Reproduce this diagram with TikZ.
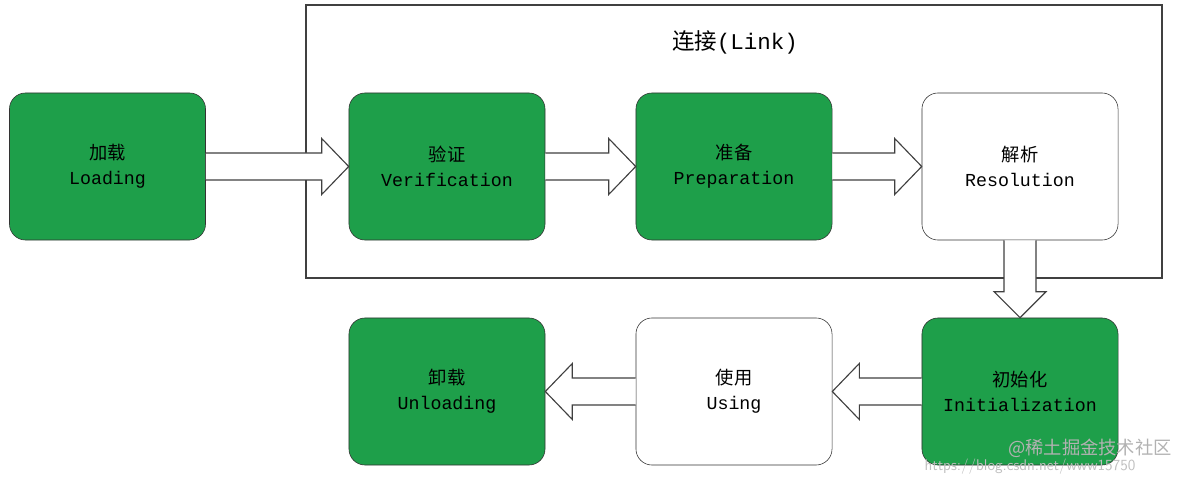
\documentclass[tikz,border=0pt]{standalone}
\usepackage{fontspec}
\setmonofont{Liberation Mono}
\newfontfamily\cjk{Noto Sans CJK SC}
\usetikzlibrary{calc}
\definecolor{stepgreen}{HTML}{1E9F4A}

% hollow block arrow between two anchors, #3 = +1 (rightwards) or -1 (leftwards)
\newcommand\flatarrow[3]{%
  \draw[hollow] ($(#1)+(0,13.5)$) -- ($(#2)+(-27*#3,13.5)$) -- ($(#2)+(-27*#3,28)$)
    -- (#2) -- ($(#2)+(-27*#3,-28)$) -- ($(#2)+(-27*#3,-13.5)$) -- ($(#1)+(0,-13.5)$);}

\begin{document}
\begin{tikzpicture}[x=0.025cm, y=-0.025cm,
    phase/.style={rectangle, draw=black!80, fill=stepgreen, rounded corners=0.4cm,
      minimum width=4.9cm, minimum height=3.675cm, align=center,
      font=\fontsize{13}{18}\selectfont\ttfamily, inner sep=0pt},
    plain/.style={phase, fill=white},
    hollow/.style={draw=black!75, fill=white, line width=0.8pt},
    frame/.style={draw=black!75, line width=0.8pt}]
    \useasboundingbox (0,0) rectangle (1186,478);

    \draw[frame] (306,5) rectangle (1162,278);
    \node[font=\fontsize{16}{18}\selectfont] (link) at (735,42) {{\cjk 连接}\ttfamily(Link)};

    \node[phase] (load) at (107.5,166.5) {{\cjk 加载}\\Loading};
    \node[phase] (verify) at (447,166.5) {{\cjk 验证}\\Verification};
    \node[phase] (prep) at (734,166.5) {{\cjk 准备}\\Preparation};
    \node[plain] (resolve) at (1020,166.5) {{\cjk 解析}\\Resolution};
    \node[phase] (init) at (1020,391.5) {{\cjk 初始化}\\Initialization};
    \node[plain] (use) at (734,391.5) {{\cjk 使用}\\Using};
    \node[phase] (unload) at (447,391.5) {{\cjk 卸载}\\Unloading};

    \flatarrow{load.east}{verify.west}{1}
    \flatarrow{verify.east}{prep.west}{1}
    \flatarrow{prep.east}{resolve.west}{1}
    \flatarrow{init.west}{use.east}{-1}
    \flatarrow{use.west}{unload.east}{-1}

    % vertical step from resolution down to initialization
    \draw[hollow] ($(resolve.south)+(-16,0)$) -- ($(init.north)+(-16,-26)$) -- ($(init.north)+(-26,-26)$)
      -- (init.north) -- ($(init.north)+(26,-26)$) -- ($(init.north)+(16,-26)$) -- ($(resolve.south)+(16,0)$);

    \node[text=black!30, font=\fontsize{13}{14}\selectfont\cjk] (mark) at (1090,448) {@稀土掘金技术社区};
    \node[text=black!25, font=\fontsize{11}{12}\selectfont\sffamily] (url) at (1030,467) {https://blog.csdn.net/www15750};
\end{tikzpicture}
\end{document}
